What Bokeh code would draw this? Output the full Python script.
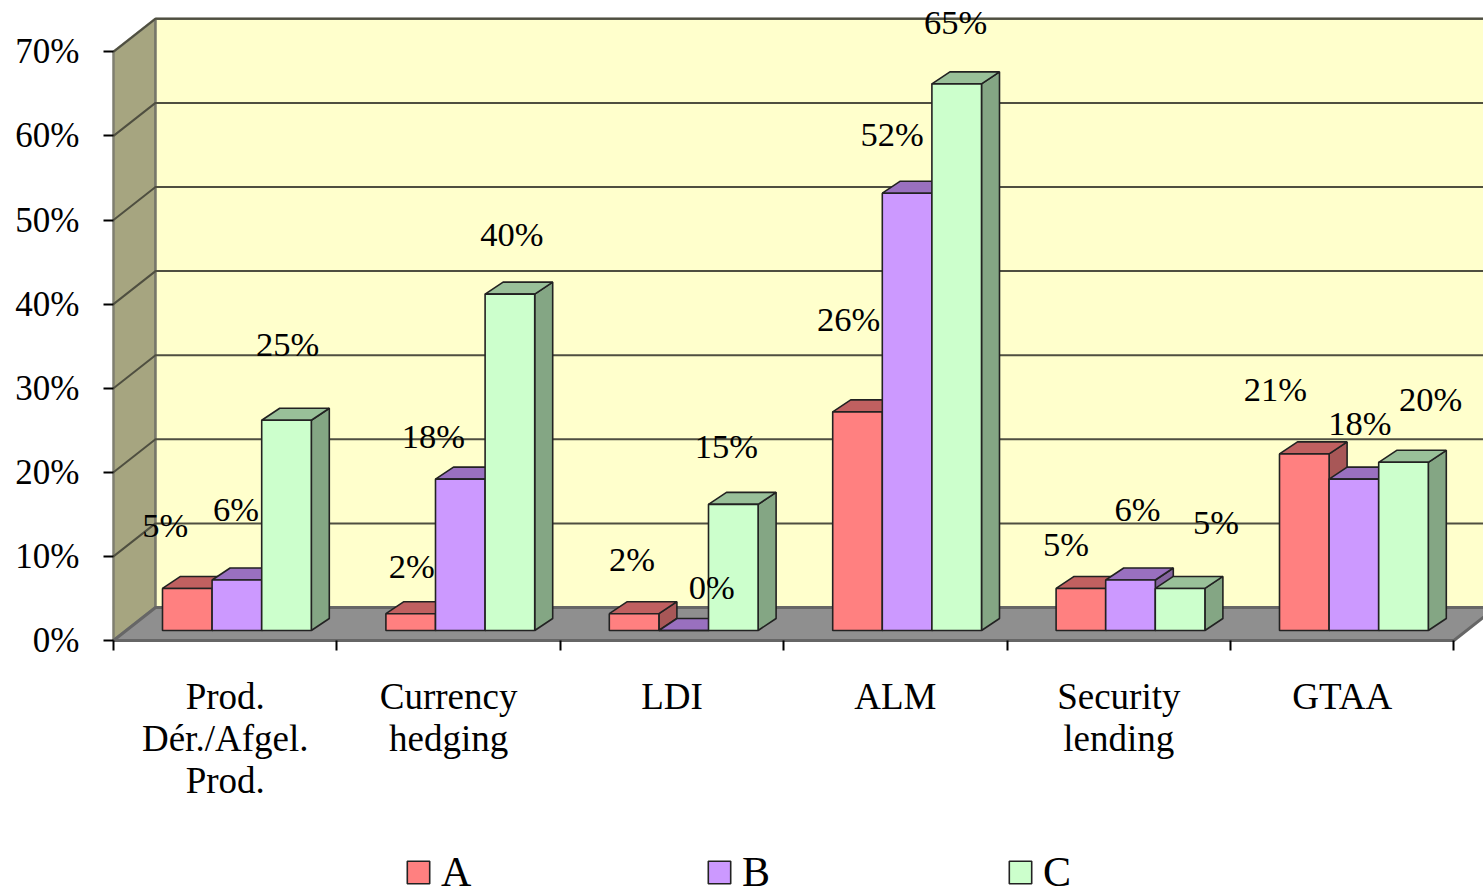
from bokeh.plotting import figure
from bokeh.models import Range1d, FixedTicker, Legend, LegendItem, LinearAxis, ColumnDataSource
from bokeh.core.properties import value
from bokeh.embed import file_html
from bokeh.resources import INLINE

categories = ["Prod.\nDér./Afgel.\nProd.", "Currency\nhedging", "LDI", "ALM", "Security\nlending", "GTAA"]
series_names = ["A", "B", "C"]
values_a = [5, 2, 2, 26, 5, 21]
values_b = [6, 18, 0, 52, 6, 18]
values_c = [25, 40, 15, 65, 5, 20]
y_ticks = [0, 10, 20, 30, 40, 50, 60, 70]
y_labels = ["0%", "10%", "20%", "30%", "40%", "50%", "60%", "70%"]

# label nudges in screen pixels, relative to the top-centre of each bar
label_dx_a = [-22, 1, -2, -9, -15, -29]
label_dy_a = [-63, -48, -55, -93, -44, -65]
label_dx_b = [-1, -27, 28, -15, 7, 6]
label_dy_b = [-71, -43, -44, -59, -71, -56]
label_dx_c = [1, 2, -7, -1, 36, 27]
label_dy_c = [-76, -60, -58, -62, -66, -63]

fronts = ["#FF8080", "#CC99FF", "#CCFFCC"]
tops = ["#C06060", "#9970BF", "#99C099"]
sides = ["#A85757", "#85639F", "#84A684"]
FONT = "Liberation Serif"

PX_X = 223.4      # pixels per category
PX_Y = 8.41       # pixels per percentage point
W, H = 1483, 895
BL, BB = 113, 255  # room left of and under the chart's origin

wall_dx, wall_dy = 42 / PX_X, 33 / PX_Y
bar_off, bar_w = 49 / PX_X, 49.6 / PX_X
bar_dx, bar_dy = 18 / PX_X, 12 / PX_Y
base = 10 / PX_Y

p = figure(width=W, height=H, output_backend="svg", toolbar_location=None,
           x_range=Range1d(-BL / PX_X, (W - BL) / PX_X), y_range=Range1d(-BB / PX_Y, (H - BB) / PX_Y),
           min_border_left=0, min_border_right=0, min_border_top=0, min_border_bottom=0,
           x_axis_location=None, y_axis_location=None, outline_line_color=None,
           background_fill_color="white", border_fill_color="white")
p.grid.visible = False

n = len(categories)
xmax = n + wall_dx
top = y_ticks[-1]

# left wall, back wall, floor
p.patch([0, wall_dx, wall_dx, 0], [0, wall_dy, top + wall_dy, top], fill_color="#A6A580",
        line_color="#7F7F70", line_width=2.5)
p.patch([wall_dx, xmax, xmax, wall_dx], [wall_dy, wall_dy, top + wall_dy, top + wall_dy],
        fill_color="#FFFFCC", line_color="#77776A", line_width=2.5)
grid_xs = [[0, wall_dx, xmax] for v in y_ticks[1:]]
grid_ys = [[v, v + wall_dy, v + wall_dy] for v in y_ticks[1:]]
p.multi_line(grid_xs, grid_ys, line_color="#4F4F40", line_width=2)
p.patch([0, n, xmax, wall_dx], [0, 0, wall_dy, wall_dy], fill_color="#8F8F8F",
        line_color="#666666", line_width=3)

# bars, back-to-front per series
legend_items = []
all_values = [values_a, values_b, values_c]
for s, vals in enumerate(all_values):
    x0 = [i + bar_off + s * bar_w for i in range(n)]
    x1 = [x + bar_w for x in x0]
    y1 = [base + v for v in vals]
    side_xs = [[b, b + bar_dx, b + bar_dx, b] for b in x1]
    side_ys = [[base, base + bar_dy, t + bar_dy, t] for t in y1]
    top_xs = [[a, a + bar_dx, b + bar_dx, b] for a, b in zip(x0, x1)]
    top_ys = [[t, t + bar_dy, t + bar_dy, t] for t in y1]
    p.patches(side_xs, side_ys, fill_color=sides[s], line_color="#222222", line_width=1.6)
    p.patches(top_xs, top_ys, fill_color=tops[s], line_color="#222222", line_width=1.6)
    front = p.patches([[a, b, b, a] for a, b in zip(x0, x1)],
                      [[base, base, t, t] for t in y1],
                      fill_color=fronts[s], line_color="#222222", line_width=1.6)
    legend_items.append(LegendItem(label=series_names[s], renderers=[front]))

# value labels
lab_x, lab_y, lab_t, lab_dx, lab_dy = [], [], [], [], []
for s, (vals, dxs, dys) in enumerate(zip(all_values,
                                         [label_dx_a, label_dx_b, label_dx_c],
                                         [label_dy_a, label_dy_b, label_dy_c])):
    for i, v in enumerate(vals):
        lab_x.append(i + bar_off + (s + 0.5) * bar_w)
        lab_y.append(base + v)
        lab_t.append(f"{v}%")
        lab_dx.append(dxs[i])
        lab_dy.append(dys[i])
src = ColumnDataSource(dict(x=lab_x, y=lab_y, t=lab_t, dx=lab_dx, dy=lab_dy))
p.text("x", "y", text="t", source=src, x_offset="dx", y_offset="dy", text_align="center",
       text_baseline="middle", text_font=value(FONT), text_font_size="34.5px", text_color="black")

# axes
yax = LinearAxis(ticker=FixedTicker(ticks=y_ticks), fixed_location=0,
                 major_label_overrides={t: l for t, l in zip(y_ticks, y_labels)})
yax.axis_line_color = None
yax.major_tick_in = 0
yax.major_tick_out = 10
yax.major_tick_line_color = "black"
yax.major_tick_line_width = 2
yax.minor_tick_line_color = None
yax.major_label_standoff = 24
yax.major_label_text_font = FONT
yax.major_label_text_font_size = "35px"
yax.major_label_text_color = "black"
p.add_layout(yax, "left")

centers = [i + 0.5 for i in range(n)]
bounds = list(range(n + 1))
xax = LinearAxis(ticker=FixedTicker(ticks=centers, minor_ticks=bounds), fixed_location=0,
                 major_label_overrides={c: l for c, l in zip(centers, categories)})
xax.axis_line_color = None
xax.major_tick_line_color = None
xax.major_tick_in = 0
xax.major_tick_out = 10
xax.minor_tick_in = 0
xax.minor_tick_out = 10
xax.minor_tick_line_color = "black"
xax.minor_tick_line_width = 2
xax.major_label_standoff = 25
xax.major_label_text_font = FONT
xax.major_label_text_font_size = "37px"
xax.major_label_text_color = "black"
xax.major_label_text_line_height = 1.03
p.add_layout(xax, "below")

legend = Legend(items=legend_items, orientation="horizontal", location=(404, -1),
                glyph_width=28, glyph_height=28, label_standoff=9, spacing=232,
                padding=0, margin=0, border_line_color=None, background_fill_color=None,
                background_fill_alpha=0, label_text_font=FONT, label_text_font_size="42px",
                label_text_color="black", label_height=30, label_width=32)
p.add_layout(legend)

open("out.html", "w").write(file_html(p, INLINE))
